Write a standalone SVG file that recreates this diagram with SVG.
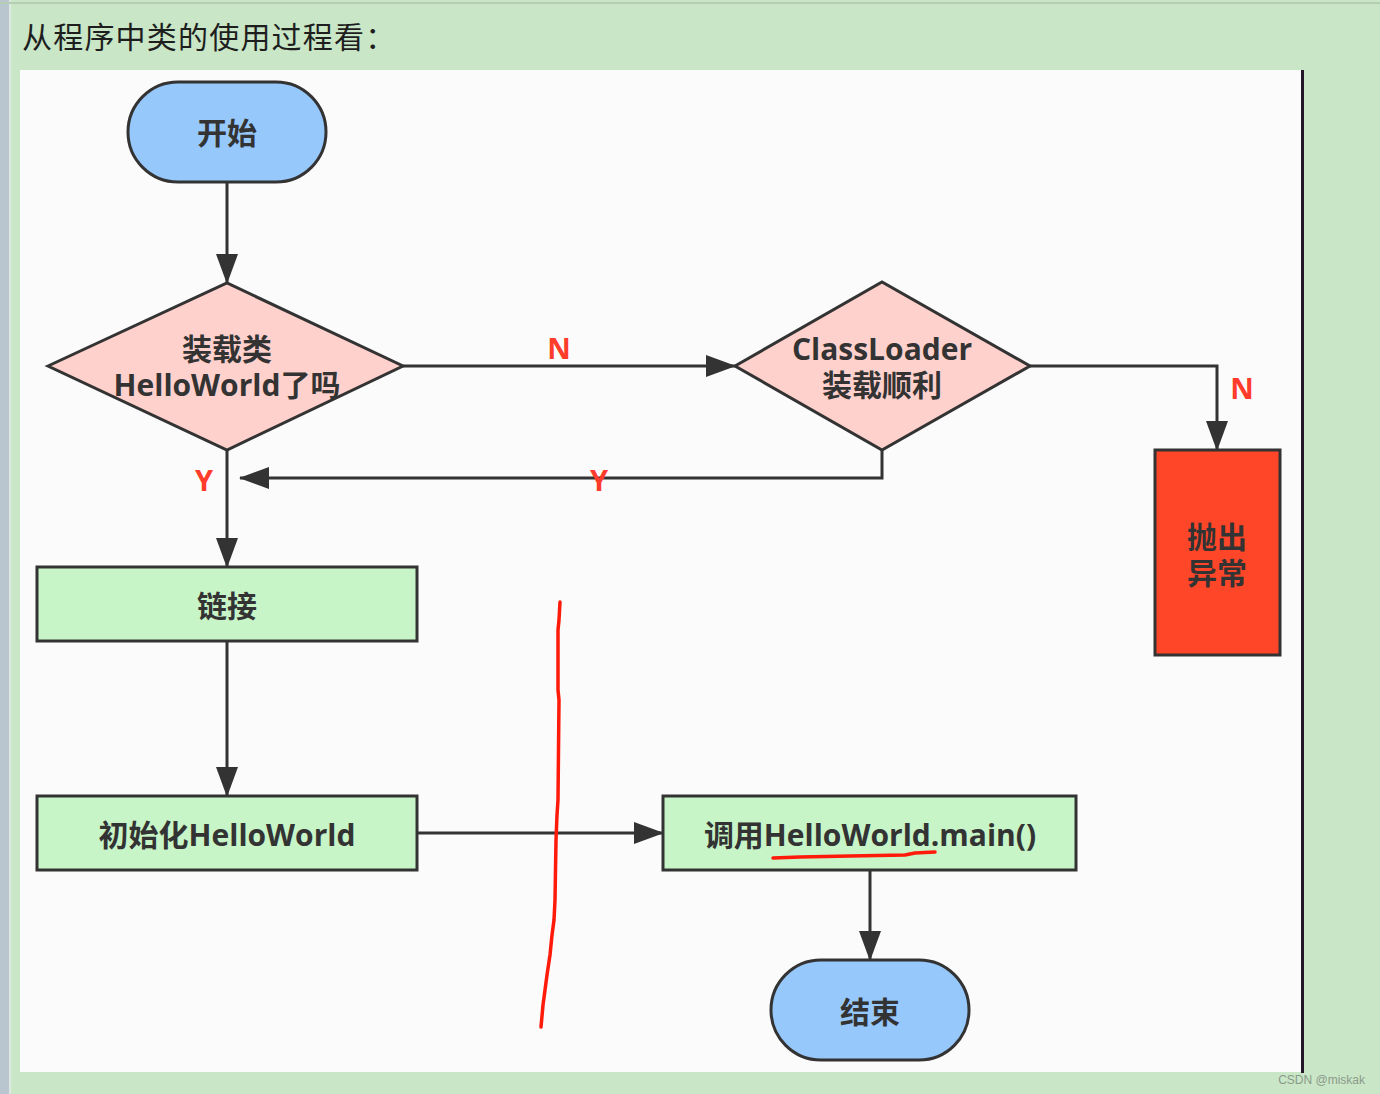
<svg xmlns="http://www.w3.org/2000/svg" width="1380" height="1094" viewBox="0 0 1380 1094">
<defs>
<style>
.bg{fill:#c9e6c6}
.panel{fill:#fbfbfb}
.term{fill:#96c8fb;stroke:#333;stroke-width:3}
.dec{fill:#ffd1cc;stroke:#333;stroke-width:3}
.proc{fill:#c7f5c7;stroke:#333;stroke-width:3}
.err{fill:#ff4629;stroke:#333;stroke-width:3}
.lbl{font-family:"Open Sans","Noto Sans CJK SC",sans-serif;font-weight:bold;font-size:30px;fill:#333;text-anchor:middle}
.yn{font-family:"Open Sans","Liberation Sans",sans-serif;font-weight:bold;font-size:29px;fill:#ff3b2b;text-anchor:middle}
.edge{fill:none;stroke:#333;stroke-width:3}
.hand{fill:none;stroke:#ff1a0a;stroke-width:3.5;stroke-linecap:round;stroke-linejoin:round}
</style>
<marker id="arr" viewBox="0 0 30 22" refX="29" refY="11" markerWidth="30" markerHeight="22" markerUnits="userSpaceOnUse" orient="auto">
<path d="M0,0 L30,11 L0,22 Z" fill="#333"/>
</marker>
</defs>
<rect class="bg" x="0" y="0" width="1380" height="1094"/>
<rect x="0" y="0" width="9" height="1094" fill="#b9c5cf"/>
<rect x="9" y="0" width="2" height="1094" fill="#dfe8e0"/>
<rect x="0" y="2" width="1380" height="2" fill="#b5cdb3"/>
<rect class="panel" x="20" y="70" width="1283" height="1002"/>
<rect x="1301" y="70" width="3" height="1003" fill="#241828"/>
<text x="22" y="48" font-family="'Noto Sans CJK SC',sans-serif" font-size="30" letter-spacing="1.2" fill="#1e1e1e">从程序中类的使用过程看：</text>

<g id="connectors">
<path class="edge" d="M227,182 V283" marker-end="url(#arr)"/>
<path class="edge" d="M403,366 H735" marker-end="url(#arr)"/>
<path class="edge" d="M1030,366 H1217 V450" marker-end="url(#arr)"/>
<path class="edge" d="M882,450 V478 H240" marker-end="url(#arr)"/>
<path class="edge" d="M227,450 V567" marker-end="url(#arr)"/>
<path class="edge" d="M227,641 V796" marker-end="url(#arr)"/>
<path class="edge" d="M417,833 H663" marker-end="url(#arr)"/>
<path class="edge" d="M870,870 V960" marker-end="url(#arr)"/>
<text class="yn" x="559" y="359">N</text>
<text class="yn" x="1242" y="399">N</text>
<text class="yn" x="599" y="491">Y</text>
<text class="yn" x="204" y="491">Y</text>
</g>

<g id="start">
<rect class="term" x="128" y="82" width="198" height="100" rx="50" ry="50"/>
<text class="lbl" x="227" y="144">开始</text>
</g>
<g id="loaded">
<polygon class="dec" points="48,366 227,283 403,366 227,450"/>
<text class="lbl" x="227" y="360">装载类<tspan x="227" dy="36">HelloWorld了吗</tspan></text>
</g>
<g id="classloader">
<polygon class="dec" points="735,366 882,282 1030,366 882,450"/>
<text class="lbl" x="882" y="360">ClassLoader<tspan x="882" dy="36">装载顺利</tspan></text>
</g>
<g id="throw">
<rect class="err" x="1155" y="450" width="125" height="205"/>
<text class="lbl" x="1217" y="548">抛出<tspan x="1217" dy="36">异常</tspan></text>
</g>
<g id="link">
<rect class="proc" x="37" y="567" width="380" height="74"/>
<text class="lbl" x="227" y="617">链接</text>
</g>
<g id="init">
<rect class="proc" x="37" y="796" width="380" height="74"/>
<text class="lbl" x="227" y="846">初始化HelloWorld</text>
</g>
<g id="callmain">
<rect class="proc" x="663" y="796" width="413" height="74"/>
<text class="lbl" x="870" y="846">调用HelloWorld.main()</text>
</g>
<g id="end">
<rect class="term" x="771" y="960" width="198" height="100" rx="50" ry="50"/>
<text class="lbl" x="870" y="1023">结束</text>
</g>

<g id="annotations">
<path class="hand" d="M560,602 L559,620 L558,630 L558,690 L559,700 L558,800 L557,815 L556,840 L555,900 L554,920 L552,935 L550,955 L547,975 L545,990 L543,1005 L541,1027"/>
<path class="hand" d="M773,858 L800,857 L850,856 L905,855 L915,853 L935,852"/>
</g>
<text x="1365" y="1084" font-family="'Liberation Sans',sans-serif" font-size="12" fill="#8c9a8c" text-anchor="end">CSDN @miskak</text>
</svg>
